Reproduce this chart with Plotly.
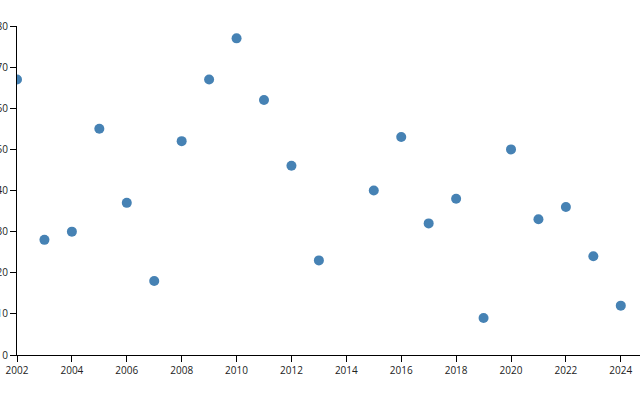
import plotly.graph_objects as go

years = [2002, 2003, 2004, 2005, 2006, 2007, 2008, 2009, 2010, 2011, 2012, 2013,
         2015, 2016, 2017, 2018, 2019, 2020, 2021, 2022, 2023, 2024]
values = [67, 28, 30, 55, 37, 18, 52, 67, 77, 62, 46, 23,
          40, 53, 32, 38, 9, 50, 33, 36, 24, 12]
x_ticks = list(range(2002, 2025, 2))
y_ticks = list(range(0, 81, 10))

fig = go.Figure(go.Scatter(
    x=years, y=values, mode="markers",
    marker=dict(color="#4682b4", size=10, line=dict(width=0)),
))

fig.update_layout(
    width=640, height=400,
    margin=dict(l=17, r=0, t=26, b=45),
    plot_bgcolor="white", paper_bgcolor="white",
    showlegend=False,
    font=dict(family="Open Sans", size=10, color="#222"),
)
fig.update_xaxes(
    range=[2002, 2024.7], tickvals=x_ticks, ticktext=[str(t) for t in x_ticks],
    showgrid=False, zeroline=False, showline=True, linecolor="black", linewidth=1,
    ticks="outside", ticklen=6, tickcolor="black", automargin=False,
)
fig.update_yaxes(
    range=[0, 80], tickvals=y_ticks,
    showgrid=False, zeroline=False, showline=True, linecolor="black", linewidth=1,
    ticks="outside", ticklen=6, tickcolor="black", automargin=False,
)

fig.write_html("out.html", config={"displayModeBar": False},
               post_script="document.body.style.margin='0';document.body.style.padding='0';")
